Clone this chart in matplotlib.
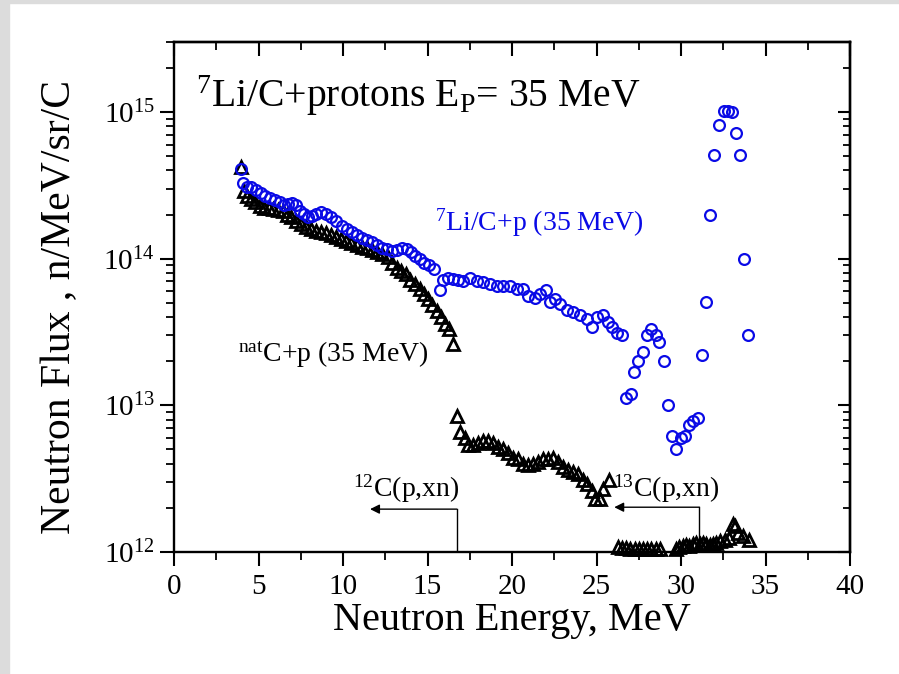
import matplotlib
matplotlib.use("Agg")
import matplotlib.pyplot as plt
from matplotlib.ticker import MultipleLocator, LogLocator, NullFormatter, LogFormatterMathtext
from matplotlib.patches import Rectangle

plt.rcParams['font.family'] = ['Liberation Serif', 'DejaVu Serif']
plt.rcParams['mathtext.fontset'] = 'custom'
plt.rcParams['mathtext.rm'] = 'Liberation Serif'
plt.rcParams['mathtext.it'] = 'Liberation Serif:italic'
plt.rcParams['mathtext.bf'] = 'Liberation Serif:bold'

# 7Li/C + p (35 MeV) -- blue circles
li_energy = [3.95, 4.08, 4.34, 4.58, 4.87, 5.13, 5.40, 5.66, 5.96, 6.25, 6.51, 6.75, 7.00, 7.24,
             7.44, 7.69, 7.93, 8.17, 8.42, 8.72, 9.01, 9.31, 9.60, 9.92, 10.22, 10.51, 10.81,
             11.11, 11.40, 11.70, 12.00, 12.29, 12.59, 12.88, 13.18, 13.47, 13.77, 14.02, 14.26,
             14.56, 14.81, 15.09, 15.40, 15.74, 15.93, 16.23, 16.53, 16.82, 17.12, 17.51, 17.91,
             18.30, 18.70, 19.09, 19.49, 19.88, 20.28, 20.67, 20.96, 21.36, 21.66, 22.01, 22.25,
             22.54, 22.84, 23.24, 23.63, 24.02, 24.42, 24.72, 25.01, 25.40, 25.70, 25.90, 26.20,
             26.49, 26.75, 27.02, 27.24, 27.47, 27.73, 27.97, 28.22, 28.52, 28.72, 29.00, 29.25,
             29.45, 29.70, 29.98, 30.24, 30.47, 30.73, 30.99, 31.24, 31.46, 31.72, 31.97, 32.25,
             32.56, 32.80, 33.04, 33.24, 33.49, 33.71, 33.98]
li_flux = [4.1e14, 3.3e14, 3.1e14, 3.07e14, 2.94e14, 2.79e14, 2.68e14, 2.58e14, 2.51e14, 2.42e14,
           2.33e14, 2.35e14, 2.38e14, 2.33e14, 2.12e14, 2.01e14, 1.91e14, 1.96e14, 2.03e14, 2.07e14,
           2.03e14, 1.93e14, 1.80e14, 1.67e14, 1.59e14, 1.51e14, 1.45e14, 1.39e14, 1.34e14, 1.29e14,
           1.24e14, 1.19e14, 1.16e14, 1.13e14, 1.15e14, 1.19e14, 1.16e14, 1.11e14, 1.04e14, 9.9e13,
           9.3e13, 9.0e13, 8.5e13, 6.1e13, 7.1e13, 7.4e13, 7.3e13, 7.1e13, 7.0e13, 7.4e13, 7.0e13,
           6.9e13, 6.7e13, 6.5e13, 6.5e13, 6.5e13, 6.2e13, 6.2e13, 5.6e13, 5.4e13, 5.7e13, 6.1e13,
           5.1e13, 5.3e13, 4.9e13, 4.5e13, 4.3e13, 4.1e13, 3.9e13, 3.4e13, 4.0e13, 4.1e13, 3.7e13,
           3.4e13, 3.1e13, 3.0e13, 1.12e13, 1.2e13, 1.7e13, 2.0e13, 2.3e13, 3.0e13, 3.3e13, 3.0e13,
           2.7e13, 2.0e13, 1.01e13, 6.2e12, 5.0e12, 6.0e12, 6.2e12, 7.3e12, 7.8e12, 8.2e12, 2.2e13,
           5.1e13, 2.0e14, 5.1e14, 8.2e14, 1.02e15, 1.02e15, 1.0e15, 7.2e14, 5.1e14, 1.0e14, 3.0e13]

# natC + p (35 MeV) -- black triangles
c_energy = [3.95, 4.12, 4.30, 4.54, 4.77, 5.07, 5.33, 5.60, 5.86, 6.15, 6.45, 6.71, 6.94, 7.24,
            7.53, 7.83, 8.12, 8.42, 8.72, 9.01, 9.31, 9.60, 9.90, 10.20, 10.50, 10.80, 11.10,
            11.40, 11.70, 12.00, 12.30, 12.64, 12.88, 13.18, 13.43, 13.71, 13.96, 14.26, 14.56,
            14.81, 15.05, 15.28, 15.54, 15.80, 16.04, 16.27, 16.50,
            16.73, 16.92, 17.22, 17.42, 17.71, 18.01, 18.30, 18.60, 18.89, 19.19, 19.49, 19.78,
            20.08, 20.37, 20.67, 20.97, 21.26, 21.56, 21.85, 22.15, 22.44, 22.74, 23.04, 23.33,
            23.63, 23.92, 24.18, 24.42, 24.72, 24.91, 25.21, 25.40, 25.74,
            26.25, 26.50, 26.75, 27.00, 27.25, 27.50, 27.75, 28.00, 28.25, 28.50, 28.75,
            29.70, 29.90, 30.10, 30.30, 30.50, 30.70, 30.90, 31.10, 31.30, 31.50, 31.70, 31.90,
            32.10, 32.30, 32.60, 32.85, 33.05, 33.20, 33.40, 33.65, 34.00]
c_flux = [4.2e14, 2.9e14, 2.68e14, 2.55e14, 2.42e14, 2.29e14, 2.23e14, 2.20e14, 2.17e14, 2.14e14,
          2.10e14, 2.00e14, 1.91e14, 1.81e14, 1.72e14, 1.65e14, 1.59e14, 1.55e14, 1.51e14, 1.49e14,
          1.45e14, 1.41e14, 1.36e14, 1.31e14, 1.28e14, 1.24e14, 1.21e14, 1.18e14, 1.14e14, 1.11e14,
          1.08e14, 1.02e14, 9.4e13, 8.7e13, 8.2e13, 7.8e13, 7.2e13, 6.7e13, 6.2e13, 5.7e13, 5.3e13,
          4.8e13, 4.4e13, 4.0e13, 3.6e13, 3.3e13, 2.6e13,
          8.5e12, 6.6e12, 6.0e12, 5.4e12, 5.4e12, 5.5e12, 5.7e12, 5.7e12, 5.5e12, 5.2e12, 5.0e12,
          4.7e12, 4.4e12, 4.3e12, 4.0e12, 3.9e12, 4.0e12, 4.1e12, 4.3e12, 4.3e12, 4.4e12, 4.1e12,
          3.8e12, 3.6e12, 3.5e12, 3.4e12, 3.1e12, 2.9e12, 2.6e12, 2.3e12, 2.3e12, 2.7e12, 3.1e12,
          1.09e12, 1.06e12, 1.06e12, 1.05e12, 1.05e12, 1.05e12, 1.05e12, 1.05e12, 1.05e12, 1.05e12, 1.05e12,
          1.05e12, 1.08e12, 1.10e12, 1.12e12, 1.10e12, 1.13e12, 1.15e12, 1.14e12, 1.15e12, 1.13e12,
          1.12e12, 1.14e12, 1.15e12, 1.18e12, 1.20e12, 1.25e12, 1.55e12, 1.50e12, 1.35e12, 1.28e12, 1.2e12]

x_ticks = [0, 5, 10, 15, 20, 25, 30, 35, 40]
x_range = (0, 40)
y_range = (1e12, 3e15)

# threshold arrows: (vertical line energy, arrow tip energy, level)
arrow_12c = (16.73, 11.6, 1.96e12)
arrow_13c = (31.08, 26.05, 2.02e12)

fig = plt.figure(figsize=(8.99, 6.74), dpi=100)
fig.patches.append(Rectangle((0, 0), 9 / 899, 1, transform=fig.transFigure,
                             color='#dcdcdc', zorder=0))
fig.patches.append(Rectangle((0, 1 - 3 / 674), 1, 3 / 674, transform=fig.transFigure,
                             color='#dcdcdc', zorder=0))

ax = fig.add_axes([174 / 899, 1 - 552 / 674, 676 / 899, 510 / 674])
ax.set_yscale('log')
ax.set_xlim(*x_range)
ax.set_ylim(*y_range)

ax.plot(c_energy, c_flux, linestyle='none', marker='^', markersize=8.5,
        markerfacecolor='none', markeredgecolor='black', markeredgewidth=2.0, zorder=3,
        clip_on=False)
ax.plot(li_energy, li_flux, linestyle='none', marker='o', markersize=7.8,
        markerfacecolor='none', markeredgecolor='#0a0ae6', markeredgewidth=1.6, zorder=4)

# ticks
ax.set_xticks(x_ticks)
ax.xaxis.set_minor_locator(MultipleLocator(2.5))
ax.yaxis.set_major_locator(LogLocator(base=10, numticks=10))
ax.yaxis.set_minor_locator(LogLocator(base=10, subs=range(2, 10), numticks=20))
ax.yaxis.set_minor_formatter(NullFormatter())
ax.yaxis.set_major_formatter(LogFormatterMathtext())
ax.tick_params(which='major', direction='out', length=10, width=1.5, labelsize=21)
ax.tick_params(which='minor', direction='out', length=6, width=1.3)
ax.tick_params(axis='x', which='major', pad=6)
ax.tick_params(axis='y', which='major', pad=4)

for sp in ax.spines.values():
    sp.set_linewidth(1.7)

secx = ax.secondary_xaxis('top')
secx.xaxis.set_major_locator(MultipleLocator(5))
secx.xaxis.set_minor_locator(MultipleLocator(2.5))
secx.tick_params(which='major', direction='in', length=10, width=1.5, labeltop=False)
secx.tick_params(which='minor', direction='in', length=6, width=1.3)
secx.spines['top'].set_linewidth(1.7)

secy = ax.secondary_yaxis('right')
secy.yaxis.set_major_locator(LogLocator(base=10, numticks=10))
secy.yaxis.set_minor_locator(LogLocator(base=10, subs=range(2, 10), numticks=20))
secy.yaxis.set_minor_formatter(NullFormatter())
secy.tick_params(which='major', direction='in', length=9, width=1.5, labelright=False)
secy.tick_params(which='minor', direction='in', length=5, width=1.3)
secy.spines['right'].set_linewidth(1.7)

ax.set_xlabel('Neutron Energy, MeV', fontsize=29, labelpad=1)
ax.set_ylabel('Neutron Flux , n/MeV/sr/C', fontsize=30, labelpad=17)
ax.yaxis.label.set_y(0.48)

# annotations
ax.text(1.3, 1.08e15, r'$^{\mathrm{7}}$Li/C+protons E$_{\mathrm{P}}$= 35 MeV', fontsize=28.5,
        va='baseline', ha='left')
ax.text(15.44, 1.56e14, r'$^{\mathrm{7}}$Li/C+p (35 MeV)', fontsize=20, color='#0a0ae6',
        va='baseline', ha='left')
ax.text(3.79, 1.96e13, r'$^{\mathrm{nat}}$C+p (35 MeV)', fontsize=20,
        va='baseline', ha='left')
ax.text(10.6, 2.39e12, r'$^{\mathrm{12}}$C(p,xn)', fontsize=20, va='baseline', ha='left')
ax.text(26.0, 2.39e12, r'$^{\mathrm{13}}$C(p,xn)', fontsize=20, va='baseline', ha='left')

for xv, xtip, lev in (arrow_12c, arrow_13c):
    ax.plot([xv, xv], [y_range[0], lev], color='black', linewidth=1.0, zorder=2)
    ax.annotate('', xy=(xtip, lev), xytext=(xv, lev),
                arrowprops=dict(arrowstyle='-|>', color='black', lw=1.0,
                                mutation_scale=14, shrinkA=0, shrinkB=0))

fig.savefig('out.png', dpi=100)
